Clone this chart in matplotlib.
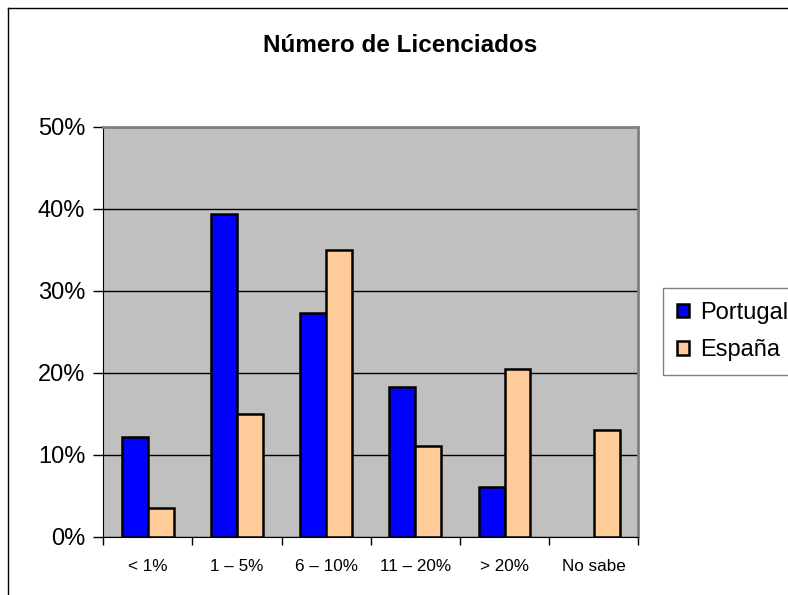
import matplotlib.pyplot as plt
import numpy as np
from matplotlib.lines import Line2D

plt.rcParams['font.family'] = ['Liberation Sans', 'DejaVu Sans']

categories = ["< 1%", "1 – 5%", "6 – 10%", "11 – 20%", "> 20%", "No sabe"]
portugal = [12.1, 39.4, 27.3, 18.2, 6.1, 0.0]
espana = [3.5, 15.0, 35.0, 11.1, 20.5, 13.0]
y_ticks = [0, 10, 20, 30, 40, 50]
y_labels = ["0%", "10%", "20%", "30%", "40%", "50%"]

fig = plt.figure(figsize=(7.88, 5.95), dpi=100)
ax = fig.add_axes([0.131, 0.098, 0.679, 0.689])
ax.set_facecolor('#C0C0C0')

x = np.arange(len(categories))
w = 0.29
pt = np.array(portugal)
es = np.array(espana)
mask = pt > 0
ax.bar(x[mask] - w/2, pt[mask], width=w, color='#0000FF', edgecolor='black', linewidth=1.8, label='Portugal', zorder=3)
ax.bar(x + w/2, es, width=w, color='#FFCC99', edgecolor='black', linewidth=1.8, label='España', zorder=3)

ax.set_xlim(-0.5, len(categories) - 0.5)
ax.set_ylim(0, 50)
ax.set_yticks(y_ticks)
ax.set_yticklabels(y_labels, fontsize=17)
ax.yaxis.grid(True, color='black', linewidth=1)
ax.set_axisbelow(True)

ax.set_xticks(x)
ax.set_xticklabels(categories, fontsize=12.3)
ax.tick_params(axis='x', length=0, pad=16)
ax.set_xticks(np.arange(len(categories) + 1) - 0.5, minor=True)
ax.tick_params(axis='x', which='minor', length=6, width=1, direction='out')
ax.tick_params(axis='y', length=7, width=1, direction='out', pad=6)

ax.spines['left'].set_color('black')
ax.spines['bottom'].set_color('black')
ax.spines['top'].set_color('#808080')
ax.spines['right'].set_color('#808080')
ax.spines['top'].set_linewidth(2)
ax.spines['right'].set_linewidth(2)

fig.text(0.508, 0.924, "Número de Licenciados", fontsize=17.5, fontweight='bold',
         ha='center', va='center')

leg = fig.legend(loc='upper left', bbox_to_anchor=(0.841, 0.371, 0.25, 0.145),
                 mode='expand', fontsize=17, frameon=True, fancybox=False,
                 handlelength=0.5, handleheight=0.5, handletextpad=0.5,
                 borderpad=0.6, labelspacing=0.64, borderaxespad=0)
leg.get_frame().set_edgecolor('#606060')
leg.get_frame().set_linewidth(1)

# outer chart border (top and left only visible)
fig.add_artist(Line2D([0.0102, 0.0102], [0.0, 0.9866], color='black', linewidth=1, transform=fig.transFigure))
fig.add_artist(Line2D([0.0102, 1.0], [0.9866, 0.9866], color='black', linewidth=1, transform=fig.transFigure))

fig.savefig('out.png', dpi=100)
